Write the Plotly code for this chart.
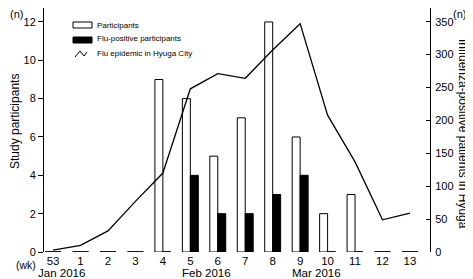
import plotly.graph_objects as go

weeks = ["53", "1", "2", "3", "4", "5", "6", "7", "8", "9", "10", "11", "12", "13"]
participants = [0, 0, 0, 0, 9, 8, 5, 7, 12, 6, 2, 3, 0, 0]
flu_positive = [0, 0, 0, 0, 0, 4, 2, 2, 3, 4, 0, 0, 0, 0]
hyuga_epidemic = [3, 10, 32, 77, 120, 248, 271, 264, 307, 347, 208, 137, 49, 59]
left_ticks = [0, 2, 4, 6, 8, 10, 12]
right_ticks = [0, 50, 100, 150, 200, 250, 300, 350]
months = ["Jan 2016", "Feb 2016", "Mar 2016"]
month_pos = [0.3, 5.6, 9.6]

# the page body has an 8px margin, so the figure is laid out 8px smaller
OFF = 8
W, H = 473 - OFF, 279 - OFF
ML, MR, MT, MB = 44 - OFF, 43, 0, 27
PW, PH = W - ML - MR, H - MT - MB


def px(x):
    return (x - OFF - ML) / PW


def py(y):
    return (H - MB - (y - OFF)) / PH


FONT = "Liberation Sans, Arial, sans-serif"
xs = list(range(len(weeks)))
BW = 0.29

fig = go.Figure()
fig.add_trace(go.Bar(x=xs, y=participants, name="Participants", width=BW, offset=-BW,
                     marker=dict(color="white", line=dict(color="black", width=1)),
                     showlegend=False))
fig.add_trace(go.Bar(x=xs, y=flu_positive, name="Flu-positive participants", width=BW, offset=0,
                     marker=dict(color="black", line=dict(color="black", width=1)),
                     showlegend=False))
fig.add_trace(go.Scatter(x=xs, y=hyuga_epidemic, name="Flu epidemic in Hyuga City", yaxis="y2",
                         mode="lines", line=dict(color="black", width=1.3), showlegend=False))

shapes = []
# zero-height bars drawn as baseline segments
for series, off in ((participants, -BW), (flu_positive, 0)):
    for i, v in enumerate(series):
        if v == 0:
            shapes.append(dict(type="line", xref="x", yref="y", x0=i + off, x1=i + off + BW,
                               y0=0, y1=0, line=dict(color="black", width=1.2)))

# legend symbols
shapes.append(dict(type="rect", xref="paper", yref="paper", x0=px(73), x1=px(92), y0=py(28), y1=py(22),
                   line=dict(color="black", width=1), fillcolor="white"))
shapes.append(dict(type="rect", xref="paper", yref="paper", x0=px(73), x1=px(92), y0=py(43), y1=py(37),
                   line=dict(color="black", width=1), fillcolor="black"))
zz = [(75, 57), (80, 51), (84, 56), (87, 52)]
path = "M " + " L ".join(f"{px(a):.5f},{py(b):.5f}" for a, b in zz)
shapes.append(dict(type="path", xref="paper", yref="paper", path=path, line=dict(color="black", width=1)))

annotations = []
for txt, yy in (("Participants", 25), ("Flu-positive participants", 39), ("Flu epidemic in Hyuga City", 53)):
    annotations.append(dict(text=txt, xref="paper", yref="paper", x=px(95), y=py(yy), xanchor="left",
                            yanchor="middle", showarrow=False, font=dict(size=8, family=FONT, color="black")))
for m, p in zip(months, month_pos):
    annotations.append(dict(text=m, xref="x", yref="paper", x=p, y=py(272.5), xanchor="center",
                            yanchor="middle", showarrow=False, font=dict(size=11.5, family=FONT, color="black")))
annotations.append(dict(text="(wk)", xref="paper", yref="paper", x=px(38), y=py(265), xanchor="right",
                        yanchor="middle", showarrow=False, font=dict(size=10.5, family=FONT, color="black")))
annotations.append(dict(text="(n)", xref="paper", yref="paper", x=px(16), y=py(14), xanchor="center",
                        yanchor="middle", showarrow=False, font=dict(size=11, family=FONT, color="black")))
annotations.append(dict(text="(n)", xref="paper", yref="paper", x=px(459), y=py(14), xanchor="center",
                        yanchor="middle", showarrow=False, font=dict(size=11, family=FONT, color="black")))
annotations.append(dict(text="Study participants", xref="paper", yref="paper", x=px(15), y=py(122),
                        textangle=-90, xanchor="center", yanchor="middle", showarrow=False,
                        font=dict(size=12, family=FONT, color="black")))
annotations.append(dict(text="Influenza-positive patients in Hyuga", xref="paper", yref="paper", x=px(463),
                        y=py(134), textangle=90, xanchor="center", yanchor="middle", showarrow=False,
                        font=dict(size=12, family=FONT, color="black")))

fig.update_layout(
    width=W, height=H,
    margin=dict(l=ML, r=MR, t=MT, b=MB, pad=0, autoexpand=False),
    paper_bgcolor="white", plot_bgcolor="white",
    font=dict(family=FONT, size=11, color="black"),
    xaxis=dict(range=[-0.33, 13.73], tickmode="array", tickvals=xs, ticktext=weeks, automargin=False,
               showline=False, showgrid=False, zeroline=False, ticks="", ticklabelstandoff=0,
               tickfont=dict(size=11.5)),
    yaxis=dict(range=[0, PH / 19.17], tickvals=left_ticks, showline=True, linecolor="black", linewidth=1,
               ticks="outside", ticklen=5, tickcolor="black", showgrid=False, zeroline=False,
               automargin=False),
    yaxis2=dict(range=[0, PH / 0.658], tickvals=right_ticks, overlaying="y", side="right", showline=True,
                linecolor="black", linewidth=1, ticks="inside", ticklen=4, tickcolor="black",
                showgrid=False, zeroline=False, automargin=False, ticklabelstandoff=2),
    shapes=shapes,
    annotations=annotations,
    barmode="overlay",
)

fig.write_html("out.html")
